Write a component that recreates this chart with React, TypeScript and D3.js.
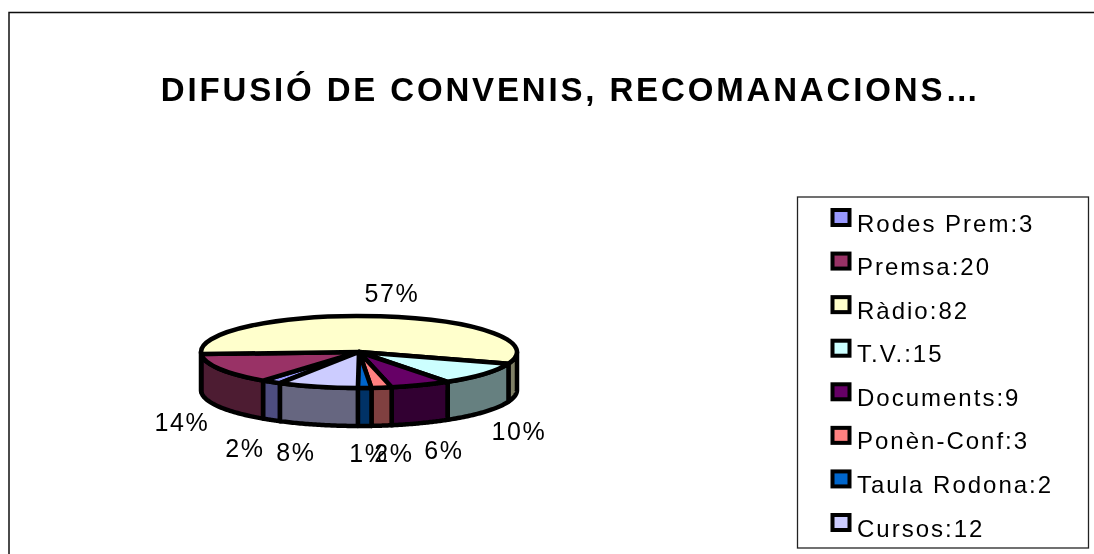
import React from "react";
import * as d3 from "d3";

const categories = ["Rodes Prem", "Premsa", "Ràdio", "T.V.", "Documents", "Ponèn-Conf", "Taula Rodona", "Cursos"];
const seriesValues = [3, 20, 82, 15, 9, 3, 2, 12];
const percentLabels = ["2%", "14%", "57%", "10%", "6%", "2%", "1%", "8%"];
const topColors = ["#9999FF", "#993366", "#FFFFCC", "#CCFFFF", "#660066", "#FF8080", "#0066CC", "#CCCCFF"];
const sideColors = ["#4D4D80", "#4D1A33", "#808066", "#668080", "#330033", "#804040", "#003366", "#666680"];
const labelPositions: [number, number][] = [[245, 457], [182, 431], [392, 302], [519, 440], [444, 459], [394, 462], [369, 462], [296, 461]];

const TITLE = "DIFUSIÓ DE CONVENIS, RECOMANACIONS…";
const cx = 359, cy = 352, rx = 158, ry = 36, depth = 38;
const startDeg = 210;
const FONT = "'Liberation Sans', Arial, sans-serif";

const toRad = (d: number) => (d * Math.PI) / 180;
const px = (a: number) => cx + rx * Math.sin(a);
const py = (a: number) => cy - ry * Math.cos(a);

const pie = d3.pie<number>().sort(null).startAngle(toRad(startDeg)).endAngle(toRad(startDeg + 360));
const arcs = pie(seriesValues);
const topArc = d3.arc<d3.PieArcDatum<number>>().innerRadius(0).outerRadius(rx);
const legendY = d3.scalePoint<string>().domain(categories).range([231, 536]);

function sidePath(a0: number, a1: number): string | null {
  const pieces: string[] = [];
  for (const shift of [0, 2 * Math.PI]) {
    const s = Math.max(a0 - shift, Math.PI / 2), e = Math.min(a1 - shift, (3 * Math.PI) / 2);
    if (e <= s) continue;
    const samples = d3.range(0, 41).map((i) => s + ((e - s) * i) / 40);
    const pts: [number, number][] = [
      ...samples.map((a): [number, number] => [px(a), py(a)]),
      ...samples.slice().reverse().map((a): [number, number] => [px(a), py(a) + depth]),
    ];
    pieces.push((d3.line()(pts) as string) + "Z");
  }
  return pieces.length ? pieces.join("") : null;
}

export default function App() {
  return (
    <svg width={1094} height={554} style={{ position: "absolute", left: 0, top: 0, background: "#fff" }}>
      <defs>
        <filter id="soft" x="0" y="0" width="100%" height="100%" filterUnits="userSpaceOnUse">
          <feGaussianBlur stdDeviation={0.45} />
        </filter>
      </defs>
      <g filter="url(#soft)">
        <path d="M9 554V12.5H1094" fill="none" stroke="#111" strokeWidth={1.5} />
        <text x={571} y={101} textAnchor="middle" fontFamily={FONT} fontWeight="bold" fontSize={33} letterSpacing={2.85} fill="#000">{TITLE}</text>

        {arcs.map((d, i) => {
          const p = sidePath(d.startAngle, d.endAngle);
          return p ? <path key={i} d={p} fill={sideColors[i]} stroke="#000" strokeWidth={4.5} strokeLinejoin="round" /> : null;
        })}
        <g transform={`translate(${cx},${cy}) scale(1,${ry / rx})`}>
          {arcs.map((d, i) => (
            <path key={i} d={topArc(d) as string} fill={topColors[i]} stroke="#000" strokeWidth={4.5} strokeLinejoin="round" style={{ vectorEffect: "non-scaling-stroke" }} />
          ))}
        </g>

        {percentLabels.map((t, i) => (
          <text key={i} x={labelPositions[i][0]} y={labelPositions[i][1]} textAnchor="middle" fontFamily={FONT} fontSize={25} letterSpacing={1.6} fill="#000">{t}</text>
        ))}

        <rect x={797.5} y={197} width={291} height={351} fill="#fff" stroke="#222" strokeWidth={1.3} />
        {categories.map((c, i) => {
          const y = legendY(c) as number;
          return (
            <g key={c}>
              <rect x={832.5} y={y - 21} width={17} height={15} fill={topColors[i]} stroke="#000" strokeWidth={4} />
              <text x={857} y={y + 0.5} fontFamily={FONT} fontSize={24} letterSpacing={2} fill="#000">{`${c}:${seriesValues[i]}`}</text>
            </g>
          );
        })}
      </g>
    </svg>
  );
}
